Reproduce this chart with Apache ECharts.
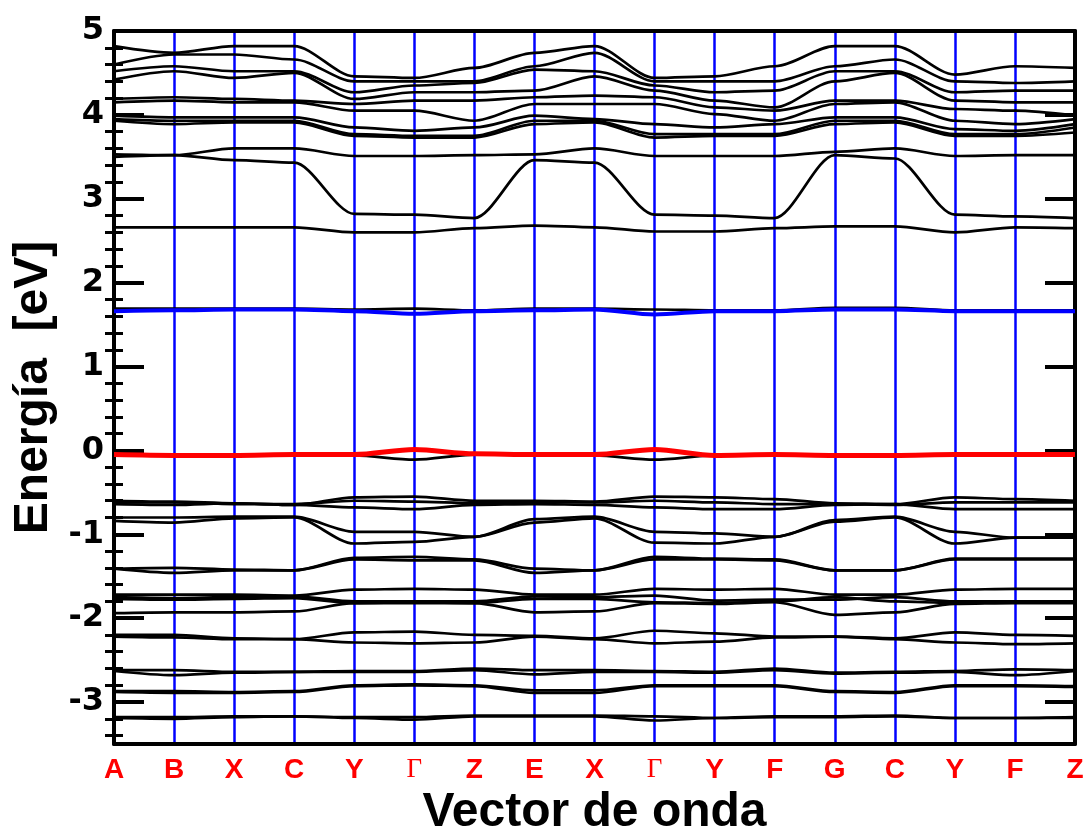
<!DOCTYPE html>
<html><head><meta charset="utf-8">
<script src="https://cdn.jsdelivr.net/npm/echarts@6/dist/echarts.min.js"></script>
<style>html,body{margin:0;padding:0;background:#fff}#c{width:1089px;height:831px}</style>
</head><body><div id="c"></div>
<script>
// k-path labels (A B X C Y Γ Z E X Γ Y F G C Y F Z)
const kLabels = ['A','B','X','C','Y','Γ','Z','E','X','Γ','Y','F','G','C','Y','F','Z'];
const yTicks = [-3,-2,-1,0,1,2,3,4,5];
const yMinorTicks = [-3.4,-3.2,-2.8,-2.6,-2.4,-2.2,-1.8,-1.6,-1.4,-1.2,-0.8,-0.6,-0.4,-0.2,0.2,0.4,0.6,0.8,1.2,1.4,1.6,1.8,2.2,2.4,2.6,2.8,3.2,3.4,3.6,3.8,4.2,4.4,4.6,4.8];

// conduction bands above 3.7 eV
const upperBands = [
 [4.82,4.74,4.82,4.82,4.46,4.44,4.56,4.74,4.82,4.44,4.46,4.58,4.82,4.82,4.48,4.58,4.56],
 [4.60,4.72,4.72,4.66,4.40,4.40,4.40,4.58,4.74,4.40,4.40,4.40,4.58,4.66,4.40,4.38,4.40],
 [4.52,4.58,4.52,4.52,4.27,4.35,4.38,4.54,4.52,4.35,4.27,4.29,4.52,4.52,4.27,4.29,4.29],
 [4.42,4.52,4.44,4.50,4.19,4.27,4.27,4.29,4.46,4.29,4.17,4.09,4.40,4.50,4.17,4.15,4.15],
 [4.19,4.21,4.19,4.17,4.13,4.17,4.17,4.21,4.23,4.21,4.09,4.05,4.17,4.17,4.07,4.05,3.99],
 [4.15,4.17,4.15,4.15,4.05,4.05,3.93,4.13,4.13,4.13,4.01,3.93,4.13,4.15,3.93,3.89,3.95],
 [3.99,3.97,3.97,3.97,3.85,3.81,3.85,3.99,3.95,3.89,3.85,3.89,3.97,3.97,3.83,3.81,3.89],
 [3.95,3.93,3.93,3.93,3.77,3.75,3.75,3.93,3.93,3.77,3.77,3.77,3.93,3.93,3.77,3.77,3.85],
 [3.93,3.89,3.91,3.91,3.75,3.73,3.73,3.89,3.91,3.73,3.75,3.75,3.89,3.91,3.75,3.75,3.79]
];
// conduction bands 2.6 - 3.6 eV
const midBands = [
 [3.53,3.52,3.60,3.60,3.51,3.51,3.52,3.53,3.60,3.51,3.51,3.51,3.56,3.60,3.51,3.52,3.52],
 [3.50,3.52,3.46,3.43,2.82,2.81,2.77,3.46,3.43,2.81,2.80,2.77,3.52,3.48,2.81,2.79,2.77],
 [2.66,2.66,2.66,2.66,2.60,2.60,2.65,2.68,2.66,2.61,2.61,2.65,2.67,2.67,2.60,2.66,2.65]
];
// lowest conduction band (blue) and its black partner
const cbmBlue  = [1.66,1.67,1.68,1.68,1.66,1.63,1.66,1.67,1.68,1.62,1.66,1.66,1.68,1.68,1.66,1.66,1.66];
const cbmBlack = [1.69,1.69,1.69,1.69,1.68,1.69,1.67,1.69,1.69,1.68,1.67,1.67,1.70,1.70,1.67,1.67,1.67];
// highest valence band (red) and its black partner
const vbmRed   = [-0.05,-0.06,-0.06,-0.05,-0.05,0.01,-0.04,-0.05,-0.05,0.01,-0.06,-0.05,-0.06,-0.06,-0.05,-0.05,-0.05];
const vbmBlack = [-0.06,-0.06,-0.06,-0.06,-0.06,-0.11,-0.05,-0.05,-0.06,-0.11,-0.06,-0.06,-0.06,-0.06,-0.06,-0.06,-0.06];
// valence bands
const valenceBands = [
 [-0.60,-0.61,-0.63,-0.65,-0.56,-0.55,-0.60,-0.60,-0.61,-0.55,-0.56,-0.58,-0.63,-0.64,-0.56,-0.58,-0.60],
 [-0.62,-0.62,-0.64,-0.64,-0.60,-0.61,-0.63,-0.62,-0.62,-0.60,-0.62,-0.64,-0.64,-0.65,-0.62,-0.62,-0.62],
 [-0.64,-0.65,-0.63,-0.65,-0.68,-0.70,-0.65,-0.64,-0.65,-0.68,-0.70,-0.70,-0.65,-0.64,-0.70,-0.70,-0.70],
 [-0.80,-0.80,-0.79,-0.79,-0.97,-0.97,-1.03,-0.82,-0.79,-0.97,-0.99,-1.03,-0.83,-0.79,-0.97,-1.04,-1.04],
 [-0.84,-0.86,-0.81,-0.80,-1.11,-1.09,-1.03,-0.86,-0.81,-1.10,-1.11,-1.03,-0.85,-0.80,-1.11,-1.04,-1.04],
 [-1.41,-1.40,-1.42,-1.43,-1.28,-1.27,-1.30,-1.41,-1.43,-1.27,-1.29,-1.30,-1.43,-1.43,-1.29,-1.29,-1.29],
 [-1.41,-1.46,-1.43,-1.43,-1.30,-1.31,-1.31,-1.46,-1.43,-1.30,-1.30,-1.31,-1.43,-1.43,-1.30,-1.30,-1.30],
 [-1.72,-1.72,-1.72,-1.73,-1.66,-1.65,-1.66,-1.72,-1.72,-1.65,-1.66,-1.65,-1.72,-1.72,-1.66,-1.65,-1.65],
 [-1.75,-1.76,-1.75,-1.74,-1.80,-1.80,-1.80,-1.74,-1.75,-1.73,-1.79,-1.78,-1.78,-1.75,-1.80,-1.80,-1.80],
 [-1.77,-1.78,-1.77,-1.76,-1.82,-1.81,-1.82,-1.77,-1.77,-1.81,-1.82,-1.80,-1.75,-1.80,-1.82,-1.81,-1.81],
 [-1.94,-1.93,-1.93,-1.92,-1.82,-1.82,-1.82,-1.93,-1.92,-1.82,-1.83,-1.81,-1.96,-1.93,-1.83,-1.82,-1.82],
 [-2.20,-2.20,-2.24,-2.25,-2.17,-2.16,-2.20,-2.21,-2.24,-2.15,-2.18,-2.22,-2.22,-2.24,-2.17,-2.20,-2.21],
 [-2.22,-2.23,-2.25,-2.25,-2.29,-2.30,-2.29,-2.22,-2.25,-2.30,-2.28,-2.23,-2.22,-2.25,-2.29,-2.31,-2.30],
 [-2.62,-2.62,-2.64,-2.64,-2.63,-2.63,-2.60,-2.62,-2.62,-2.63,-2.64,-2.60,-2.65,-2.64,-2.63,-2.61,-2.62],
 [-2.63,-2.68,-2.65,-2.64,-2.64,-2.64,-2.62,-2.67,-2.64,-2.64,-2.65,-2.62,-2.66,-2.65,-2.64,-2.68,-2.63],
 [-2.87,-2.87,-2.88,-2.87,-2.80,-2.79,-2.80,-2.86,-2.86,-2.80,-2.80,-2.80,-2.87,-2.88,-2.80,-2.80,-2.81],
 [-2.88,-2.89,-2.89,-2.88,-2.81,-2.80,-2.81,-2.89,-2.89,-2.81,-2.81,-2.81,-2.88,-2.89,-2.81,-2.81,-2.82],
 [-3.18,-3.18,-3.17,-3.17,-3.18,-3.18,-3.16,-3.16,-3.16,-3.17,-3.19,-3.17,-3.17,-3.16,-3.19,-3.19,-3.18],
 [-3.19,-3.20,-3.18,-3.17,-3.19,-3.21,-3.17,-3.17,-3.17,-3.22,-3.19,-3.18,-3.18,-3.17,-3.19,-3.19,-3.19]
];

function band(vals, color, width, z) {
  return {
    type: 'line', xAxisIndex: 0, yAxisIndex: 0,
    data: vals.map((v, i) => [i, v]),
    showSymbol: false, symbol: 'none', smooth: 0.3, smoothMonotone: 'x',
    lineStyle: { color: color, width: width }, z: z, silent: true, animation: false
  };
}
const series = [];
[...upperBands, ...midBands, cbmBlack, vbmBlack, ...valenceBands].forEach(b => series.push(band(b, '#000', 2.7, 3)));
series.push(band(cbmBlue, '#0000ff', 4, 4));
series.push(band(vbmRed, '#ff0000', 5, 4));

const FS = 'Liberation Sans, Arial, Helvetica, sans-serif';
const FN = 'Liberation Sans Narrow, Arial Narrow, Liberation Sans, sans-serif';
const chart = echarts.init(document.getElementById('c'), null, { renderer: 'canvas' });
const yBase = { type: 'value', min: -3.5, max: 5, splitLine: { show: false } };
chart.setOption({
  backgroundColor: '#fff',
  animation: false,
  grid: { left: 114, right: 14, top: 31, bottom: 87, containLabel: false, outerBoundsMode: 'none' },
  xAxis: [
    { type: 'value', min: 0, max: 16, interval: 1, position: 'bottom',
      axisLine: { show: true, onZero: false, lineStyle: { color: '#000', width: 4 } },
      axisTick: { show: false },
      splitLine: { show: true, lineStyle: { color: '#0000ff', width: 2.5 } },
      axisLabel: {
        margin: 12,
        formatter: v => { const s = kLabels[Math.round(v)] || ''; return s === 'Γ' ? '{g|Γ}' : '{l|' + s + '}'; },
        rich: {
          l: { color: '#ff0000', fontWeight: 'bold', fontSize: 28, fontFamily: FN },
          g: { color: '#ff0000', fontSize: 27, fontFamily: 'Liberation Serif, Times New Roman, serif' }
        }
      },
      name: 'Vector de onda', nameLocation: 'middle', nameGap: 40,
      nameTextStyle: { color: '#000', fontWeight: 'bold', fontSize: 48, fontFamily: FS }
    },
    { type: 'value', min: 0, max: 16, position: 'top',
      axisLine: { show: true, onZero: false, lineStyle: { color: '#000', width: 4 } },
      axisTick: { show: false }, axisLabel: { show: false }, splitLine: { show: false } }
  ],
  yAxis: [
    Object.assign({}, yBase, { position: 'left',
      axisLine: { show: true, onZero: false, lineStyle: { color: '#000', width: 4 } },
      axisTick: { show: true, inside: true, length: 30, customValues: yTicks, lineStyle: { color: '#000', width: 4 } },
      axisLabel: { customValues: yTicks, margin: 10, color: '#000', fontWeight: 'bold', fontSize: 32, fontFamily: 'DejaVu Sans, Liberation Sans, sans-serif' },
      name: 'Energía  [eV]', nameLocation: 'middle', nameGap: 54, nameRotate: 90,
      nameTextStyle: { color: '#000', fontWeight: 'bold', fontSize: 48, fontFamily: FS } }),
    Object.assign({}, yBase, { position: 'left',
      axisLine: { show: false },
      axisTick: { show: true, inside: true, length: 9, customValues: yMinorTicks, lineStyle: { color: '#000', width: 3 } },
      axisLabel: { show: false } }),
    Object.assign({}, yBase, { position: 'right',
      axisLine: { show: true, onZero: false, lineStyle: { color: '#000', width: 4 } },
      axisTick: { show: true, inside: true, length: 30, customValues: yTicks, lineStyle: { color: '#000', width: 4 } },
      axisLabel: { show: false } }),
    Object.assign({}, yBase, { position: 'right',
      axisLine: { show: false },
      axisTick: { show: true, inside: true, length: 9, customValues: yMinorTicks, lineStyle: { color: '#000', width: 3 } },
      axisLabel: { show: false } })
  ],
  series: series
});
</script></body></html>
